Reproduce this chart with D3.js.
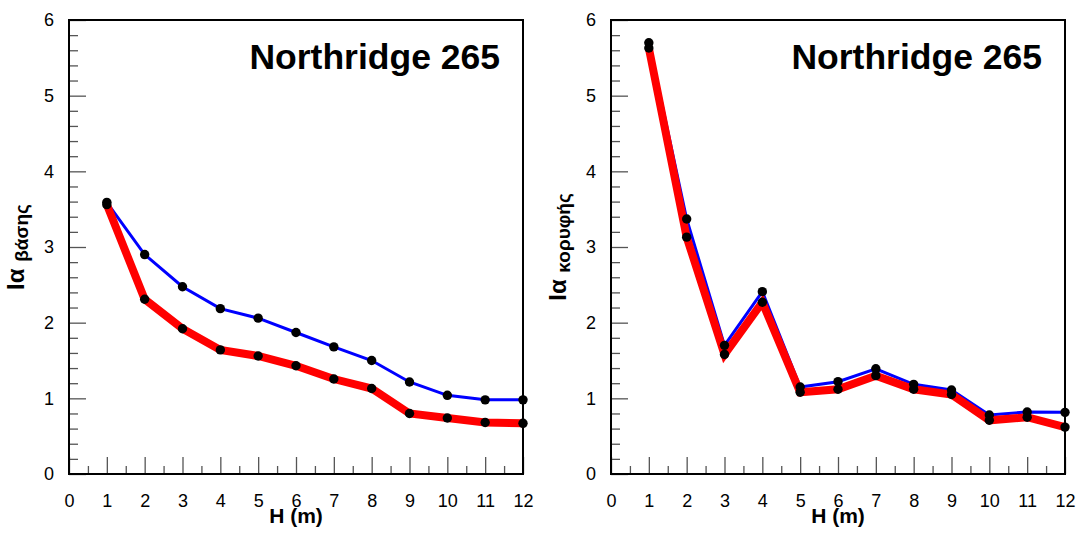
<!DOCTYPE html>
<meta charset="utf-8">
<style>
body { margin: 0; background: #fff; }
svg { font-family: Arial, "Liberation Sans", sans-serif; }
.axis path { display: none; }
.axis line { stroke: #555; stroke-width: 1.3px; }
.axis text { font-size: 18px; fill: #000; font-family: Arial, "Liberation Sans", sans-serif; }
.frame { fill: none; stroke: #000; stroke-width: 2px; }
.line { fill: none; stroke-linejoin: miter; }
</style>
<svg width="1077" height="536"></svg>
<script src="https://cdn.jsdelivr.net/npm/d3@7"></script>
<script>

// heights (x) and the two series per panel
var heights = [1, 2, 3, 4, 5, 6, 7, 8, 9, 10, 11, 12];
var baseBlue = [3.59, 2.90, 2.475, 2.185, 2.06, 1.87, 1.68, 1.50, 1.216, 1.04, 0.98, 0.98];
var baseRed  = [3.56, 2.31, 1.92, 1.64, 1.56, 1.43, 1.255, 1.13, 0.80, 0.74, 0.68, 0.67];
var topBlue  = [5.70, 3.37, 1.70, 2.41, 1.15, 1.22, 1.39, 1.185, 1.11, 0.78, 0.82, 0.815];
var topRed   = [5.63, 3.13, 1.58, 2.27, 1.08, 1.12, 1.30, 1.12, 1.05, 0.71, 0.75, 0.62];

var xTicks = [0, 1, 2, 3, 4, 5, 6, 7, 8, 9, 10, 11, 12];
var yTicks = [0, 1, 2, 3, 4, 5, 6];
var title = "Northridge 265";
var xLabel = "H (m)";

var svg = d3.select("svg"),
    width = 454,
    height = 454,
    marginTop = 20;

var x = d3.scaleLinear().domain([0, 12]).range([0, width]),
    y = d3.scaleLinear().domain([0, 6]).range([height, 0]);

var line = d3.line()
    .x(function(d) { return x(d.h); })
    .y(function(d) { return y(d.v); });

function panel(left, sub, blue, red) {
  var g = svg.append("g").attr("transform", "translate(" + left + "," + marginTop + ")");

  // minor ticks
  g.append("g").attr("class", "axis")
      .attr("transform", "translate(0," + height + ")")
      .call(d3.axisBottom(x).tickValues(d3.range(0.5, 12, 1)).tickSize(-8).tickFormat(""));
  g.append("g").attr("class", "axis")
      .call(d3.axisLeft(y).tickValues(d3.range(0.2, 6, 0.2).filter(function(v) { return Math.abs(v - Math.round(v)) > 0.01; }))
        .tickSize(-9).tickFormat(""));

  // major ticks with labels
  g.append("g").attr("class", "axis")
      .attr("transform", "translate(0," + height + ")")
      .call(d3.axisBottom(x).tickValues(xTicks).tickSize(-17).tickPadding(20).tickFormat(d3.format("d")));
  g.append("g").attr("class", "axis")
      .call(d3.axisLeft(y).tickValues(yTicks).tickSize(-17).tickPadding(15).tickFormat(d3.format("d")));

  g.append("rect").attr("class", "frame")
      .attr("width", width).attr("height", height);

  var sA = heights.map(function(h, i) { return {h: h, v: blue[i]}; }),
      sB = heights.map(function(h, i) { return {h: h, v: red[i]}; });

  g.append("path").attr("class", "line")
      .attr("d", line(sA)).style("stroke", "#0000ff").style("stroke-width", 3);
  g.append("path").attr("class", "line")
      .attr("d", line(sB)).style("stroke", "#ff0000").style("stroke-width", 8);

  g.selectAll(".dot")
    .data(sA.concat(sB))
    .enter().append("circle")
      .attr("cx", function(d) { return x(d.h); })
      .attr("cy", function(d) { return y(d.v); })
      .attr("r", 4.7)
      .style("fill", "#000");

  g.append("text")
      .attr("x", width - 23)
      .attr("y", 49)
      .attr("text-anchor", "end")
      .style("font-size", "35.5px")
      .style("font-weight", "bold")
      .text(title);

  g.append("text")
      .attr("x", width / 2)
      .attr("y", height + 49)
      .attr("text-anchor", "middle")
      .style("font-size", "21px")
      .style("font-weight", "bold")
      .text(xLabel);

  var yl = g.append("text")
      .attr("transform", "translate(-45," + (height / 2) + ") rotate(-90)")
      .attr("text-anchor", "middle")
      .style("font-weight", "bold");
  yl.append("tspan").style("font-size", "24px").text("Ια ");
  yl.append("tspan").style("font-size", "19px").attr("dy", 4).text(sub);
}

panel(69, "βάσης", baseBlue, baseRed);
panel(611, "κορυφής", topBlue, topRed);

</script>
